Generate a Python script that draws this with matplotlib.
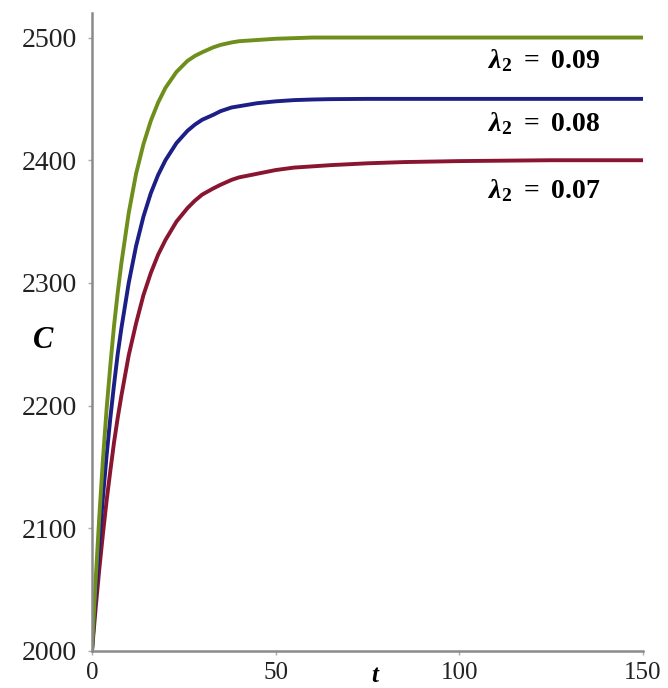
import matplotlib
matplotlib.use("Agg")
import matplotlib.pyplot as plt

# Data
t = [0, 1, 2, 3, 4, 5, 6, 7, 8, 10, 12, 14, 16, 18, 20, 23, 26, 28, 30, 33, 35, 38, 40, 45, 50,
     55, 60, 65, 75, 85, 100, 125, 150]
c_009 = [2000, 2058, 2110, 2157, 2198, 2233, 2265, 2292, 2316, 2357, 2389, 2413, 2432, 2447, 2459,
         2472, 2481, 2485, 2488, 2492, 2494, 2496, 2497, 2498, 2499,
         2499.5, 2500, 2500, 2500, 2500, 2500, 2500, 2500]
c_008 = [2000, 2047, 2089, 2126, 2160, 2190, 2217, 2242, 2263, 2300, 2330, 2354, 2373, 2388, 2400,
         2414, 2424, 2429, 2433, 2437, 2440, 2443, 2444, 2446.5, 2448,
         2449, 2449.5, 2449.8, 2450, 2450, 2450, 2450, 2450]
c_007 = [2000, 2035, 2067, 2096, 2123, 2147, 2170, 2190, 2208, 2241, 2267, 2290, 2308, 2323, 2335,
         2350, 2361, 2367, 2372, 2377, 2380, 2384, 2386, 2389, 2392,
         2394, 2395, 2396, 2397.5, 2398.5, 2399.3, 2400, 2400]
lam_values = ["0.09", "0.08", "0.07"]
label_y = [2482, 2430, 2376]
xticks = [0, 50, 100, 150]
yticks = [2000, 2100, 2200, 2300, 2400, 2500]

serif = ["Liberation Serif", "DejaVu Serif"]
plt.rcParams["mathtext.fontset"] = "custom"
plt.rcParams["mathtext.rm"] = "Liberation Serif:bold"
plt.rcParams["mathtext.bf"] = "Liberation Serif:bold"
plt.rcParams["mathtext.it"] = "Liberation Serif:italic:bold"

fig = plt.figure(figsize=(6.68, 6.88), dpi=100)
ax = fig.add_axes([0.1377, 0.0538, 0.8249, 0.9273])

ax.plot(t, c_007, color="#8a1530", lw=2.8, solid_capstyle="butt")
ax.plot(t, c_008, color="#1c1f85", lw=2.8, solid_capstyle="butt")
ax.plot(t, c_009, color="#6f8f1c", lw=2.8, solid_capstyle="butt")

for v, yy in zip(lam_values, label_y):
    ax.text(123, yy, r"$\lambda_{\mathbf{2}}\ \mathbf{=}\ \mathbf{%s}$" % v, ha="center",
            va="center", fontsize=20)

ax.set_xlim(0, 150)
ax.set_ylim(2000, 2520)
ax.set_xticks(xticks)
ax.set_yticks(yticks)
for s in ["top", "right"]:
    ax.spines[s].set_visible(False)
for s in ["left", "bottom"]:
    ax.spines[s].set_color("#8a8a8a")
    ax.spines[s].set_linewidth(1.8)
ax.tick_params(axis="y", length=3, width=1, color="#aaaaaa", labelsize=20, pad=8)
ax.tick_params(axis="x", length=3, width=1, color="#aaaaaa", labelsize=18, pad=5)
for lbl in ax.get_xticklabels() + ax.get_yticklabels():
    lbl.set_family(serif)
    lbl.set_color("#222222")

ax.text(77, 1989, "t", ha="center", va="top", fontsize=18, fontweight="bold",
        style="italic", family=serif)
ax.text(-13.3, 2253, "C", ha="center", va="center", fontsize=22, fontweight="bold",
        style="italic", family=serif)

fig.savefig("out.png", dpi=100)
